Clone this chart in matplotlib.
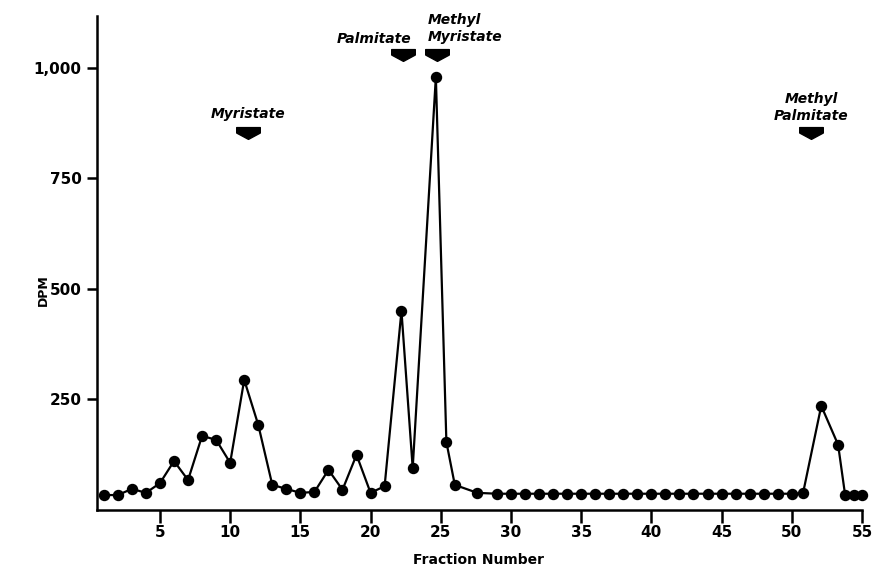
import numpy as np
import matplotlib
matplotlib.use('Agg')
import matplotlib.pyplot as plt
from matplotlib.path import Path

# fraction positions as drawn (a few near the peaks are off the integer grid)
fraction = [1, 2, 3, 4, 5, 6, 7, 8, 9, 10, 11, 12, 13, 14, 15, 16, 17, 18, 19, 20, 21,
            22.2, 23.0, 24.65, 25.4, 26.0, 27.6,
            29, 30, 31, 32, 33, 34, 35, 36, 37, 38, 39, 40, 41, 42, 43, 44, 45, 46, 47,
            48, 49, 50,
            50.8, 52.1, 53.3, 53.8, 54.4, 55]
dpm = [33, 33, 47, 38, 60, 110, 67, 167, 158, 106, 294, 192, 56, 47, 38, 40, 90, 45, 124, 38, 53,
       450, 94, 980, 153, 56, 38,
       36, 36, 36, 36, 36, 36, 36, 36, 36, 36, 36, 36, 36, 36, 36, 36, 36, 36, 36,
       36, 36, 36,
       37, 235, 147, 33, 33, 33]

x_ticks = [5, 10, 15, 20, 25, 30, 35, 40, 45, 50, 55]
y_ticks = [250, 500, 750, 1000]
y_tick_labels = ['250', '500', '750', '1,000']

# standards: label, fraction, label height, arrow height, horizontal alignment
standards = [
    ('Myristate', 11.3, 896, 853, 'center'),
    ('Palmitate', 22.3, 1066, 1030, 'right'),
    ('Methyl\nMyristate', 24.7, 1089, 1030, 'left'),
    ('Methyl\nPalmitate', 51.4, 910, 853, 'center'),
]

FONT = 'DejaVu Sans'

fig = plt.figure(figsize=(8.72, 5.67), dpi=100)
ax = fig.add_axes([0.111, 0.1012, 0.8775, 0.8706])

ax.plot(fraction, dpm, color='black', lw=1.6, marker='o', ms=7.2, zorder=3,
        clip_on=False)

ax.set_xlim(0.5, 55)
ax.set_ylim(0, 1118)
ax.spines['top'].set_visible(False)
ax.spines['right'].set_visible(False)
for s in ('left', 'bottom'):
    ax.spines[s].set_linewidth(1.8)

ax.set_xticks(x_ticks)
ax.set_yticks(y_ticks)
ax.set_yticklabels(y_tick_labels)
ax.tick_params(axis='x', length=9, width=1.8, pad=2)
ax.tick_params(axis='y', length=7, width=1.8, pad=4)
for lab in ax.get_xticklabels() + ax.get_yticklabels():
    lab.set_fontfamily(FONT)
    lab.set_fontweight('bold')
    lab.set_fontsize(11)

fig.text(0.549, 0.012, 'Fraction Number', ha='center', va='center',
         fontfamily=FONT, fontweight='bold', fontsize=10)
fig.text(0.05, 0.489, 'DPM', ha='center', va='center', rotation=90,
         fontfamily=FONT, fontweight='bold', fontsize=9)

# down-pointing block arrow used to mark the standards
arrow = Path([(-0.5, 0.25), (0.5, 0.25), (0.5, 0.02), (0.0, -0.25), (-0.5, 0.02), (-0.5, 0.25)],
             [Path.MOVETO, Path.LINETO, Path.LINETO, Path.LINETO, Path.LINETO, Path.CLOSEPOLY])

for label, fx, ty, ay, ha in standards:
    tx = fx
    if ha == 'right':
        tx = fx + 0.6
    elif ha == 'left':
        tx = fx - 0.6
    ax.text(tx, ty, label, ha=ha, va='center', fontfamily=FONT, fontweight='bold',
            fontstyle='italic', fontsize=10, linespacing=1.3, clip_on=False)
    ax.plot([fx], [ay], marker=arrow, ms=17, color='black', clip_on=False)

fig.savefig('out.png', dpi=100)
